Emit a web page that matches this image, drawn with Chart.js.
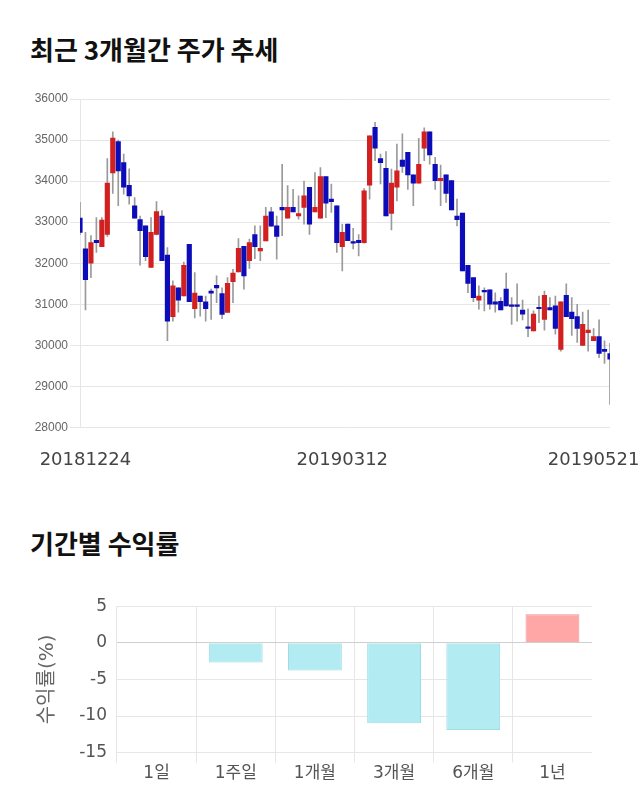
<!DOCTYPE html>
<html>
<head>
<meta charset="utf-8">
<script src="https://cdn.jsdelivr.net/npm/chart.js@4"></script>
<style>
    body { margin: 0; background: #fff; width: 640px; height: 810px; position: relative; overflow: hidden; }
    .title { position: absolute; left: 30px; margin: 0; line-height: 1; font: bold 26px "Noto Sans CJK KR", sans-serif; color: #111; }
    .box { position: absolute; left: 0; width: 640px; }
</style>
</head>
<body>
<h2 class="title" style="top: 30px;">최근 3개월간 주가 추세</h2>
<div class="box" style="top: 85px; height: 422px;"><canvas id="priceChart"></canvas></div>
<h2 class="title" style="top: 524px;">기간별 수익률</h2>
<div class="box" style="top: 586px; height: 200px;"><canvas id="returnChart"></canvas></div>
<script>
// daily candles
const opens = [33100, 32350, 32000, 32560, 32400, 32700, 34200, 34960, 34450, 33900,
    33400, 33060, 32910, 31900, 32700, 33150, 32200, 30700, 31400, 31200,
    32460, 30890, 31200, 31060, 31320, 31460, 31260, 30800, 31550, 31790,
    32410, 32060, 32700, 32300, 32540, 33250, 32910, 33360, 33100, 33360,
    33150, 33360, 33850, 33250, 33100, 34110, 33560, 33400, 32400, 32950,
    32520, 32560, 32500, 33900, 35310, 34550, 34310, 33210, 33850, 34510,
    34700, 34150, 33950, 34800, 35200, 34410, 34010, 34150, 34010, 33150,
    33220, 31950, 31650, 31100, 31330, 31350, 31060, 31070, 31370, 30970,
    30970, 30860, 30450, 30350, 30920, 30630, 30920, 30960, 29900, 31220,
    30810, 30700, 30000, 30310, 30110, 30210, 29900, 29800];
const closes = [32750, 31600, 32500, 32500, 33050, 33950, 35050, 34250, 33850, 33640,
    33100, 32790, 32160, 32750, 33260, 32060, 30590, 31450, 31100, 31950,
    31060, 31270, 31060, 30890, 31270, 31400, 30750, 31510, 31760, 32360,
    31690, 32500, 32400, 32360, 33150, 32900, 32650, 33300, 33360, 33250,
    33210, 33640, 32950, 33360, 34110, 33460, 33500, 32500, 32750, 32550,
    32490, 32500, 33760, 35100, 34800, 34450, 33150, 33950, 34250, 34360,
    34150, 33950, 34410, 35200, 34640, 34010, 34070, 33700, 33300, 33060,
    31810, 31510, 31160, 31200, 31300, 31000, 31000, 30860, 30960, 30950,
    30950, 30760, 30410, 30760, 30890, 31220, 30860, 30410, 31060, 30700,
    30650, 30410, 30510, 30370, 30210, 29800, 29850, 29660];
const highs = [33480, 32750, 32670, 33110, 33110, 34550, 35200, 35000, 34660, 34300,
    33600, 33150, 32910, 33110, 33500, 33280, 32380, 31570, 31400, 32030,
    32460, 31770, 31200, 31200, 31370, 31690, 31400, 31650, 31850, 32600,
    32410, 32590, 32910, 32910, 33360, 33360, 33150, 34410, 33890, 33800,
    33640, 34000, 33850, 34210, 34330, 34110, 33930, 33400, 32950, 32950,
    32850, 32700, 33820, 35100, 35430, 34660, 34720, 34290, 34900, 35150,
    34700, 34150, 35040, 35300, 35200, 34580, 34390, 34150, 34010, 33560,
    33220, 31950, 31650, 31450, 31400, 31350, 31280, 31160, 31760, 31160,
    31500, 31100, 30890, 30840, 31200, 31320, 31160, 31200, 31060, 31500,
    31160, 31000, 30810, 30860, 30410, 30620, 30110, 30050];
const lows = [32700, 30860, 31650, 32260, 32400, 32650, 33700, 33400, 33680, 33440,
    33100, 31950, 32060, 31900, 32690, 32060, 30110, 30590, 30810, 31200,
    31060, 30670, 30710, 30590, 30630, 31040, 30650, 30800, 31040, 31790,
    31370, 31870, 32110, 32060, 32540, 32900, 32100, 32670, 33100, 33250,
    33070, 32950, 32700, 33250, 33100, 33110, 33240, 32260, 31810, 32550,
    32350, 32180, 32490, 33560, 34500, 33930, 33150, 32810, 33520, 34210,
    33800, 33400, 33950, 34500, 34410, 33800, 33400, 33480, 33300, 32910,
    31810, 31280, 31060, 30880, 30840, 30880, 30810, 30860, 30960, 30510,
    30590, 30620, 30210, 30350, 30550, 30370, 30860, 30270, 29860, 30700,
    30240, 30070, 30000, 29860, 30110, 29700, 29560, 28560];
const dateTicks = ['20181224', '20190312', '20190521'];
const dateTickIdx = [1, 48, 94];

// period returns (%)
const periods = ['1일', '1주일', '1개월', '3개월', '6개월', '1년'];
const returns = [0, -2.7, -3.8, -11.0, -11.9, 3.9];

const UP = '#d21f1f';
const DOWN = '#0c0cb8';
const GRID = '#e6e6e6';

const slots = opens.map((o, i) => i);

new Chart(document.getElementById('priceChart'), {
    type: 'bar',
    data: {
        labels: slots,
        datasets: [
            {
                // candle bodies
                data: opens.map((o, i) => [o, closes[i]]),
                backgroundColor: opens.map((o, i) => closes[i] >= o ? UP : DOWN),
                barThickness: 4.5,
                minBarLength: 1.5,
                grouped: false,
                order: 0
            },
            {
                // wicks
                data: lows.map((l, i) => [l, highs[i]]),
                backgroundColor: '#9a9a9a',
                barThickness: 1,
                grouped: false,
                order: 1
            }
        ]
    },
    options: {
        responsive: true,
        maintainAspectRatio: false,
        animation: false,
        layout: { padding: { top: 14, right: 30, bottom: 14, left: 0 } },
        plugins: { legend: { display: false }, tooltip: { enabled: false } },
        scales: {
            x: {
                offset: false,
                grid: { display: false, drawTicks: false },
                border: { display: false },
                ticks: {
                    autoSkip: false,
                    maxRotation: 0,
                    padding: 22,
                    color: '#444',
                    font: { family: 'DejaVu Sans', size: 18 },
                    callback: (v, i) => {
                        const k = dateTickIdx.indexOf(i);
                        return k >= 0 ? dateTicks[k] : '';
                    }
                }
            },
            y: {
                min: 28000,
                max: 36000,
                afterFit: (scale) => { scale.width = 80; },
                grid: { color: GRID, tickLength: 10 },
                border: { display: true, color: GRID },
                ticks: {
                    stepSize: 1000,
                    padding: 2,
                    color: '#666',
                    font: { family: 'Liberation Sans', size: 12 },
                    callback: (v) => String(v)
                }
            }
        }
    }
});

new Chart(document.getElementById('returnChart'), {
    type: 'bar',
    data: {
        labels: periods,
        datasets: [{
            data: returns,
            backgroundColor: returns.map(v => v >= 0 ? 'rgb(255,166,166)' : 'rgb(178,235,242)'),
            borderColor: returns.map(v => v >= 0 ? 'rgb(238,150,150)' : 'rgb(158,220,232)'),
            borderWidth: 1,
            barPercentage: 0.68,
            categoryPercentage: 1
        }]
    },
    options: {
        responsive: true,
        maintainAspectRatio: false,
        animation: false,
        layout: { padding: { top: 10, right: 48, bottom: 1, left: 0 } },
        plugins: { legend: { display: false }, tooltip: { enabled: false } },
        scales: {
            x: {
                grid: {
                    color: (c) => c.tick ? GRID : 'rgba(0,0,0,0)',
                    tickLength: 10
                },
                border: { display: false },
                ticks: {
                    padding: 1,
                    color: '#555',
                    font: { family: "'DejaVu Sans', 'Noto Sans CJK KR'", size: 17 }
                }
            },
            y: {
                min: -15,
                max: 5,
                afterFit: (scale) => { scale.width = 117; },
                grid: {
                    color: (c) => c.tick && c.tick.value === 0 ? '#cfcfcf' : GRID,
                    drawTicks: false
                },
                border: { display: false },
                ticks: {
                    stepSize: 5,
                    padding: 10,
                    color: '#555',
                    font: { family: 'DejaVu Sans', size: 17 }
                },
                title: {
                    display: true,
                    text: '수익률(%)',
                    color: '#666',
                    padding: { top: 36, bottom: 0 },
                    font: { family: "'DejaVu Sans', 'Noto Sans CJK KR'", size: 20 }
                }
            }
        }
    }
});
</script>
</body>
</html>
